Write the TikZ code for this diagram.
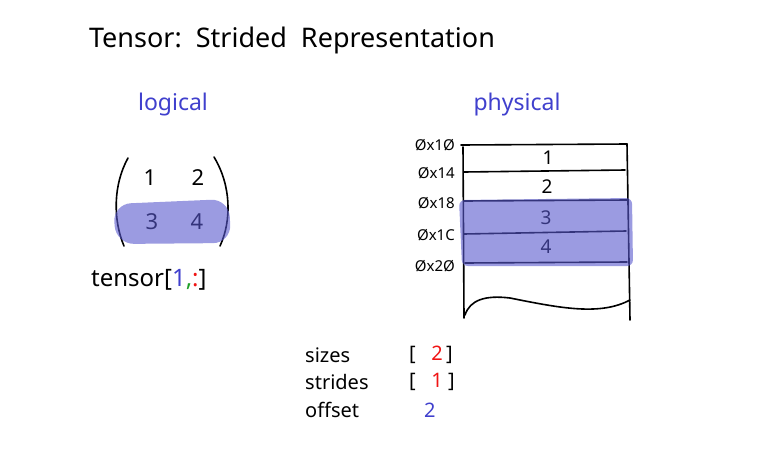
\documentclass[tikz,border=0pt]{standalone}
\usepackage{fontspec}
\setmainfont{Noto Sans}
\usetikzlibrary{positioning}
\definecolor{penblue}{RGB}{64,64,205}
\definecolor{penred}{RGB}{240,20,20}
\definecolor{pengreen}{RGB}{30,160,40}
\definecolor{marker}{RGB}{88,88,205}
\tikzset{
  heading/.style={font=\fontsize{27}{30}\selectfont, anchor=center},
  sidetitle/.style={text=penblue, font=\fontsize{23}{25}\selectfont},
  entry/.style={font=\fontsize{22}{24}\selectfont, inner sep=1pt},
  cellnum/.style={font=\fontsize{19}{21}\selectfont, inner sep=1pt},
  address/.style={font=\fontsize{15}{17}\selectfont, anchor=east, inner sep=1pt},
  meta/.style={font=\fontsize{20}{22}\selectfont, anchor=west, inner sep=1pt},
  pen/.style={line width=1.6pt, line cap=round, line join=round},
  highlight/.style={fill=marker, fill opacity=0.6, rounded corners=18pt}
}

\begin{document}
\begin{tikzpicture}[x=1pt, y=-1pt]
  \useasboundingbox (0,0) rectangle (765,466);
  \node[heading] (title) at (292,40) {Tensor:\ \ Strided\ \ Representation};

  % logical view
  \node[sidetitle] (logical) at (173,105) {logical};
  \node[entry] (a11) at (150,178) {1};
  \node[entry] (a12) at (198,178) {2};
  \node[entry] (a21) at (152,222) {3};
  \node[entry] (a22) at (197,222) {4};
  \draw[pen] (128,158) .. controls (113,185) and (113,220) .. (124,246);
  \draw[pen] (214,157) .. controls (231,185) and (232,220) .. (220,246);
  \node[entry, anchor=west, font=\fontsize{24}{26}\selectfont] (index) at (90,280)
    {tensor[\textcolor{penblue}{1}\textcolor{pengreen}{,}\textcolor{penred}{:}]};
  \fill[highlight] (113,204) -- (229,199) -- (231,243) -- (116,244) -- cycle;

  % physical view
  \node[sidetitle] (physical) at (517,105) {physical};
  \draw[pen] (461,145) -- (627,144);
  \draw[pen] (464,172) -- (625,170);
  \draw[pen] (464,201) -- (627,200);
  \draw[pen] (464,234) -- (626,231);
  \draw[pen] (465,263) -- (627,262);
  \draw[pen] (463,147) -- (464,318);
  \draw[pen] (627,144) -- (630,320);
  \draw[pen] (465,315) .. controls (470,300) and (485,295) .. (510,298)
    .. controls (560,308) and (600,316) .. (630,300);
  \node[cellnum] (m1) at (548,158) {1};
  \node[cellnum] (m2) at (547,187) {2};
  \node[cellnum] (m3) at (546,218) {3};
  \node[cellnum] (m4) at (546,247) {4};
  \node[address] (ad0) at (456,145) {Øx1Ø};
  \node[address] (ad1) at (456,173) {Øx14};
  \node[address] (ad2) at (456,203) {Øx18};
  \node[address] (ad3) at (456,235) {Øx1C};
  \node[address] (ad4) at (456,266) {Øx2Ø};
  \fill[highlight, rounded corners=6pt] (459,200) -- (632,198) -- (633,266) -- (462,266) -- cycle;

  % metadata
  \node[meta] (sizes) at (304,355) {sizes};
  \node[meta] (strides) at (304,382) {strides};
  \node[meta] (offset) at (304,410) {offset};
  \node[meta] (sizeval) at (408,355) {[\ \ \ \textcolor{penred}{2}\,]};
  \node[meta] (strideval) at (408,382) {[\ \ \ \textcolor{penred}{1}\ ]};
  \node[meta, text=penblue] (offsetval) at (423,410) {2};
\end{tikzpicture}
\end{document}
